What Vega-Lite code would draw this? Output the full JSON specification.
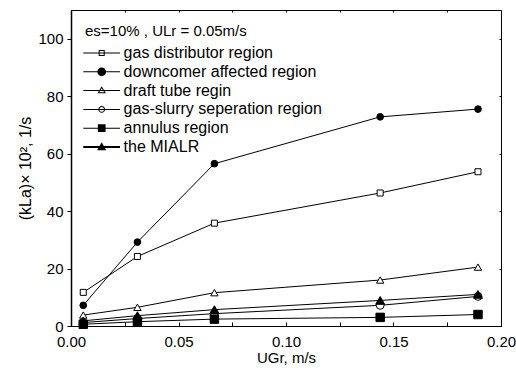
{
  "$schema": "https://vega.github.io/schema/vega-lite/v6.json",
  "width": 430,
  "height": 316,
  "autosize": "none",
  "padding": {"left": 71, "top": 10, "right": 15, "bottom": 42},
  "background": "white",
  "config": {
    "view": {"stroke": "black", "strokeWidth": 1},
    "font": "Liberation Sans",
    "axis": {
      "labelFont": "Liberation Sans",
      "titleFont": "Liberation Sans",
      "labelColor": "black",
      "titleColor": "black",
      "domainColor": "black",
      "tickColor": "black",
      "grid": false,
      "labelFontSize": 15,
      "titleFontSize": 15,
      "titleFontWeight": "normal"
    },
    "legend": {
      "labelFont": "Liberation Sans",
      "titleFont": "Liberation Sans",
      "labelColor": "black",
      "titleColor": "black"
    }
  },
  "data": {
    "values": [
      {"series": "gas distributor region", "x": 0.0057, "y": 11.7},
      {"series": "gas distributor region", "x": 0.0309, "y": 24.2},
      {"series": "gas distributor region", "x": 0.0667, "y": 35.8},
      {"series": "gas distributor region", "x": 0.1438, "y": 46.3},
      {"series": "gas distributor region", "x": 0.1893, "y": 53.7},
      {"series": "downcomer affected region", "x": 0.0057, "y": 7.2},
      {"series": "downcomer affected region", "x": 0.0309, "y": 29.2},
      {"series": "downcomer affected region", "x": 0.0667, "y": 56.5},
      {"series": "downcomer affected region", "x": 0.1438, "y": 72.8},
      {"series": "downcomer affected region", "x": 0.1893, "y": 75.5},
      {"series": "draft tube regin", "x": 0.0057, "y": 3.8},
      {"series": "draft tube regin", "x": 0.0309, "y": 6.5},
      {"series": "draft tube regin", "x": 0.0667, "y": 11.6},
      {"series": "draft tube regin", "x": 0.1438, "y": 16.0},
      {"series": "draft tube regin", "x": 0.1893, "y": 20.5},
      {"series": "gas-slurry seperation region", "x": 0.0057, "y": 1.2},
      {"series": "gas-slurry seperation region", "x": 0.0309, "y": 2.6},
      {"series": "gas-slurry seperation region", "x": 0.0667, "y": 4.3},
      {"series": "gas-slurry seperation region", "x": 0.1438, "y": 7.2},
      {"series": "gas-slurry seperation region", "x": 0.1893, "y": 10.3},
      {"series": "annulus region", "x": 0.0057, "y": 0.6},
      {"series": "annulus region", "x": 0.0309, "y": 1.5},
      {"series": "annulus region", "x": 0.0667, "y": 2.4},
      {"series": "annulus region", "x": 0.1438, "y": 3.0},
      {"series": "annulus region", "x": 0.1893, "y": 4.0},
      {"series": "the MIALR", "x": 0.0057, "y": 1.8},
      {"series": "the MIALR", "x": 0.0309, "y": 3.6},
      {"series": "the MIALR", "x": 0.0667, "y": 5.7},
      {"series": "the MIALR", "x": 0.1438, "y": 8.9},
      {"series": "the MIALR", "x": 0.1893, "y": 11.0}
    ]
  },
  "layer": [
    {
      "mark": {"type": "line", "color": "black"},
      "encoding": {
        "x": {
          "field": "x", "type": "quantitative",
          "scale": {"domain": [0, 0.2]},
          "axis": {
            "orient": "bottom",
            "title": "UGr, m/s",
            "values": [0, 0.025, 0.05, 0.075, 0.1, 0.125, 0.15, 0.175, 0.2],
            "labelExpr": "round(datum.value*1000) % 50 == 0 ? format(datum.value, '.2f') : ''",
            "tickSize": -4,
            "labelPadding": 12,
            "titlePadding": 1,
            "labelFlush": false,
            "labelOverlap": false
          }
        },
        "y": {
          "field": "y", "type": "quantitative",
          "scale": {"domain": [0, 110]},
          "axis": {
            "orient": "left",
            "title": "(kLa)× 10², 1/s",
            "titleFontSize": 16,
            "values": [0, 20, 40, 60, 80, 100],
            "tickSize": 4,
            "labelPadding": 4,
            "titlePadding": 4,
            "domainWidth": 1.5
          }
        },
        "detail": {"field": "series"},
        "strokeWidth": {
          "field": "series", "type": "nominal",
          "scale": {
            "domain": ["gas distributor region", "downcomer affected region", "draft tube regin", "gas-slurry seperation region", "annulus region", "the MIALR"],
            "range": [1, 1, 1, 1, 1, 2.2]
          },
          "legend": null
        }
      }
    },
    {
      "mark": {"type": "point", "filled": true, "stroke": "black", "strokeWidth": 1, "opacity": 1},
      "encoding": {
        "x": {"field": "x", "type": "quantitative", "axis": null},
        "y": {"field": "y", "type": "quantitative", "axis": null},
        "shape": {
          "field": "series", "type": "nominal",
          "scale": {
            "domain": ["gas distributor region", "downcomer affected region", "draft tube regin", "gas-slurry seperation region", "annulus region", "the MIALR"],
            "range": ["square", "circle", "triangle-up", "circle", "square", "triangle-up"]
          },
          "legend": null
        },
        "fill": {
          "field": "series", "type": "nominal",
          "scale": {
            "domain": ["gas distributor region", "downcomer affected region", "draft tube regin", "gas-slurry seperation region", "annulus region", "the MIALR"],
            "range": ["white", "black", "white", "white", "black", "black"]
          },
          "legend": null
        },
        "size": {
          "field": "series", "type": "nominal",
          "scale": {
            "domain": ["gas distributor region", "downcomer affected region", "draft tube regin", "gas-slurry seperation region", "annulus region", "the MIALR"],
            "range": [36, 80, 55, 50, 50, 60]
          },
          "legend": null
        }
      }
    },
    {
      "transform": [{"filter": "false"}],
      "mark": {"type": "point", "filled": true, "color": "black", "strokeWidth": 0, "opacity": 1},
      "encoding": {
        "x": {"field": "x", "type": "quantitative", "axis": null},
        "y": {"field": "y", "type": "quantitative", "axis": null},
        "shape": {
          "field": "series", "type": "nominal",
          "scale": {
            "domain": ["gas distributor region", "downcomer affected region", "draft tube regin", "gas-slurry seperation region", "annulus region", "the MIALR"],
            "range": [
              "M-1.94,-0.1L5.4,-0.1L5.4,0.1L-1.94,0.1ZM1.14,-0.6L2.34,-0.6L2.34,0.6L1.14,0.6ZM1.34,-0.4L1.34,0.4L2.14,0.4L2.14,-0.4Z",
              "M-1.94,-0.1L5.4,-0.1L5.4,0.1L-1.94,0.1ZM0.87,0A0.87,0.87 0 1,1 2.61,0A0.87,0.87 0 1,1 0.87,0Z",
              "M-1.94,-0.1L5.4,-0.1L5.4,0.1L-1.94,0.1ZM1.74,-0.85L2.58,0.55L0.9,0.55ZM1.74,-0.461L1.254,0.35L2.226,0.35Z",
              "M-1.94,-0.1L5.4,-0.1L5.4,0.1L-1.94,0.1ZM1.07,0A0.67,0.67 0 1,1 2.41,0A0.67,0.67 0 1,1 1.07,0ZM1.27,0A0.47,0.47 0 1,0 2.21,0A0.47,0.47 0 1,0 1.27,0Z",
              "M-1.94,-0.1L5.4,-0.1L5.4,0.1L-1.94,0.1ZM0.97,-0.77L2.51,-0.77L2.51,0.77L0.97,0.77Z",
              "M-1.94,-0.2L5.4,-0.2L5.4,0.2L-1.94,0.2ZM1.74,-0.95L2.64,0.65L0.84,0.65Z"
            ]
          },
          "legend": {
            "title": "es=10% , ULr = 0.05m/s",
            "orient": "top-left",
            "offset": 14,
            "symbolSize": 100,
            "symbolStrokeWidth": 0,
            "symbolFillColor": "black",
            "labelFontSize": 16,
            "labelLimit": 400,
            "titleFontSize": 15,
            "titleLimit": 400,
            "titleFontWeight": "normal",
            "labelOffset": 22.6,
            "rowPadding": 2.8,
            "titlePadding": 6,
            "padding": 0
          }
        }
      }
    },
    {
      "mark": {"type": "line", "opacity": 0},
      "encoding": {
        "x": {
          "field": "x", "type": "quantitative",
          "axis": {
            "orient": "top", "title": null, "labels": false, "domain": false,
            "values": [0, 0.025, 0.05, 0.075, 0.1, 0.125, 0.15, 0.175, 0.2],
            "tickSize": -2
          }
        },
        "y": {
          "field": "y", "type": "quantitative",
          "axis": {
            "orient": "right", "title": null, "labels": false, "domain": false,
            "values": [0, 20, 40, 60, 80, 100],
            "tickSize": -2
          }
        },
        "detail": {"field": "series"}
      }
    }
  ],
  "resolve": {
    "scale": {"shape": "independent", "fill": "independent", "size": "independent", "strokeWidth": "independent"},
    "axis": {"x": "independent", "y": "independent"}
  }
}
